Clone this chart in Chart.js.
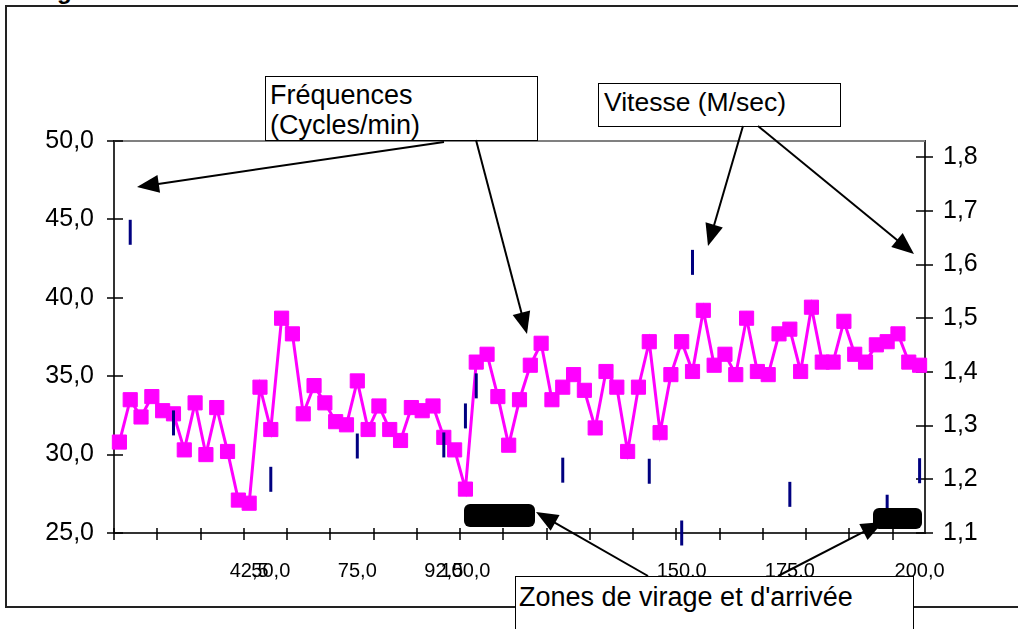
<!DOCTYPE html>
<html><head><meta charset="utf-8">
<script src="https://cdn.jsdelivr.net/npm/chart.js@4.4.0/dist/chart.umd.min.js"></script>
<style>
html,body{margin:0;padding:0;background:#fff;overflow:hidden}
#wrap{position:relative;width:1018px;height:629px;overflow:hidden;font-family:'Liberation Sans',Arial,sans-serif;color:#000}
#frame{position:absolute;left:5px;top:5px;width:1200px;height:603px;border:2px solid #222;border-right:none;box-sizing:border-box}
#title{position:absolute;left:57px;top:-21px;font-weight:bold;font-size:24px;line-height:24px;white-space:nowrap}
canvas{position:absolute;left:0;top:0}
.box{position:absolute;background:#fff;border:1.5px solid #000;font-size:27px;line-height:30px;box-sizing:border-box;white-space:nowrap}
.blk{position:absolute;background:#000;border-radius:6px}
svg{position:absolute;left:0;top:0}
</style></head>
<body>
<div id="wrap">
  <div id="frame"></div>
  <div id="title">g</div>
  <canvas id="c" width="1018" height="629"></canvas>
  <div class="blk" style="left:464px;top:504px;width:71px;height:23px"></div>
  <div class="blk" style="left:873px;top:508px;width:49px;height:21px"></div>
  <div class="box" style="left:265px;top:76px;width:273px;height:65px;padding:3px 0 0 4px">Fréquences<br>(Cycles/min)</div>
  <div class="box" style="left:598px;top:83px;width:243px;height:44px;padding:3px 0 0 5px;font-size:26.5px">Vitesse (M/sec)</div>
  <div class="box" style="left:515px;top:576px;width:399px;height:80px;padding:5px 0 0 3px">Zones de virage et d'arrivée</div>
  <svg id="arrows" width="1018" height="629"></svg>
</div>
<script>
// ---- data ----
const categoryCount = 75;
const tickLabelIndex = [12, 14, 22, 30, 32, 52, 62, 74];
const tickLabelText  = ['42,5', '50,0', '75,0', '92,5', '100,0', '150,0', '175,0', '200,0'];
const frequences = [
  30.8, 33.5, 32.4, 33.7, 32.8, 32.6, 30.3, 33.3, 30.0, 33.0,
  30.2, 27.1, 26.9, 34.3, 31.6, 38.7, 37.7, 32.6, 34.4, 33.3,
  32.1, 31.9, 34.7, 31.6, 33.1, 31.6, 30.9, 33.0, 32.8, 33.1,
  31.1, 30.3, 27.8, 35.9, 36.4, 33.7, 30.6, 33.5, 35.7, 37.1,
  33.5, 34.3, 35.1, 34.1, 31.7, 35.3, 34.3, 30.2, 34.3, 37.2,
  31.4, 35.1, 37.2, 35.3, 39.2, 35.7, 36.4, 35.1, 38.7, 35.3,
  35.1, 37.7, 38.0, 35.3, 39.4, 35.9, 35.9, 38.5, 36.4, 35.9,
  37.0, 37.2, 37.7, 35.9, 35.7
];
const vitesseIndex  = [1, 5, 14, 22, 30, 32, 33, 41, 49, 52, 53, 62, 71, 74];
const vitesseValues = [1.66, 1.305, 1.2, 1.262, 1.264, 1.318, 1.374, 1.217, 1.215, 1.1, 1.604, 1.172, 1.148, 1.216];
const leftTicks  = [25, 30, 35, 40, 45, 50];
const rightTicks = [1.1, 1.2, 1.3, 1.4, 1.5, 1.6, 1.7, 1.8];

// ---- build tables ----
const categories = Array.from({length: categoryCount}, () => '');
tickLabelIndex.forEach((idx, k) => { categories[idx] = tickLabelText[k]; });
const vitesse = Array.from({length: categoryCount}, () => null);
vitesseIndex.forEach((idx, k) => { vitesse[idx] = vitesseValues[k]; });

const FONT = "'Liberation Sans', Arial, sans-serif";
const fmt1 = v => Number(v).toFixed(1).replace('.', ',');

const crossTicks = {
  id: 'crossTicks',
  beforeDatasetsDraw(chart) {
    const {ctx, chartArea: a, scales: {x, y, y2}} = chart;
    ctx.save();
    ctx.strokeStyle = '#808080'; ctx.lineWidth = 2;
    ctx.beginPath(); ctx.moveTo(a.left, a.top); ctx.lineTo(a.right, a.top); ctx.stroke();
    ctx.strokeStyle = '#000'; ctx.lineWidth = 1.5;
    ctx.beginPath();
    leftTicks.forEach(v => { const p = Math.round(y.getPixelForValue(v)); ctx.moveTo(a.left - 7, p); ctx.lineTo(a.left + 9, p); });
    rightTicks.forEach(v => { const p = Math.round(y2.getPixelForValue(v)); ctx.moveTo(a.right - 9, p); ctx.lineTo(a.right + 8, p); });
    for (let i = 0; i < categories.length; i += 4) {
      const p = Math.round(x.getPixelForValue(i - 0.5));
      ctx.moveTo(p, a.bottom - 5); ctx.lineTo(p, a.bottom + 7);
    }
    ctx.stroke();
    ctx.restore();
  }
};

new Chart(document.getElementById('c'), {
  type: 'line',
  data: {
    labels: categories,
    datasets: [
      {
        label: 'Vitesse (M/sec)', data: vitesse, yAxisID: 'y2', showLine: false,
        pointStyle: 'line', rotation: 90, pointRadius: 12.5, pointBorderWidth: 3,
        borderColor: '#000080', backgroundColor: '#000080', clip: false
      },
      {
        label: 'Fréquences (Cycles/min)', data: frequences, yAxisID: 'y',
        borderColor: '#ff00ff', backgroundColor: '#ff00ff', borderWidth: 3, tension: 0,
        pointStyle: 'rect', pointRadius: 10, pointBorderWidth: 1, clip: false
      }
    ]
  },
  options: {
    responsive: false, animation: false, devicePixelRatio: 1,
    layout: {padding: {top: 141, left: 0, right: 0, bottom: 0}},
    plugins: {legend: {display: false}, tooltip: {enabled: false}},
    scales: {
      x: {
        type: 'category', offset: true,
        grid: {display: false, drawTicks: false, offset: true},
        border: {display: true, color: '#333', width: 2},
        ticks: {autoSkip: false, maxRotation: 0, minRotation: 0, padding: 26, color: '#000', font: {family: FONT, size: 20}},
        afterFit(s) { s.height = 96; }
      },
      y: {
        position: 'left', min: 25, max: 50,
        grid: {display: false, drawTicks: false},
        border: {display: true, color: '#333', width: 2},
        ticks: {stepSize: 5, padding: 20, color: '#000', font: {family: FONT, size: 25}, callback: v => fmt1(v)},
        afterFit(s) { s.width = 114; }
      },
      y2: {
        position: 'right', min: 1.1, max: 1.83,
        grid: {display: false, drawTicks: false},
        border: {display: true, color: '#333', width: 2},
        afterBuildTicks(s) { s.ticks = rightTicks.map(v => ({value: v})); },
        ticks: {padding: 18, color: '#000', font: {family: FONT, size: 25}, callback: v => fmt1(v)},
        afterFit(s) { s.width = 93; }
      }
    }
  },
  plugins: [crossTicks]
});

// ---- annotation arrows ----
const arrows = [
  [444, 142, 137, 187],
  [476, 140, 527, 334],
  [743, 126, 708, 246],
  [758, 126, 914, 254],
  [648, 576, 536, 512],
  [778, 576, 883, 522]
];
const svg = document.getElementById('arrows');
const NS = 'http://www.w3.org/2000/svg';
arrows.forEach(([x1, y1, x2, y2]) => {
  const dx = x2 - x1, dy = y2 - y1, len = Math.hypot(dx, dy);
  const ux = dx / len, uy = dy / len, px = -uy, py = ux;
  const L = 22, W = 9;
  const bx = x2 - ux * L, by = y2 - uy * L;
  const line = document.createElementNS(NS, 'line');
  line.setAttribute('x1', x1); line.setAttribute('y1', y1);
  line.setAttribute('x2', bx + ux * 4); line.setAttribute('y2', by + uy * 4);
  line.setAttribute('stroke', '#000'); line.setAttribute('stroke-width', '2');
  svg.appendChild(line);
  const poly = document.createElementNS(NS, 'polygon');
  poly.setAttribute('points', `${x2},${y2} ${bx + px * W},${by + py * W} ${bx - px * W},${by - py * W}`);
  poly.setAttribute('fill', '#000');
  svg.appendChild(poly);
});
</script>
</body></html>
